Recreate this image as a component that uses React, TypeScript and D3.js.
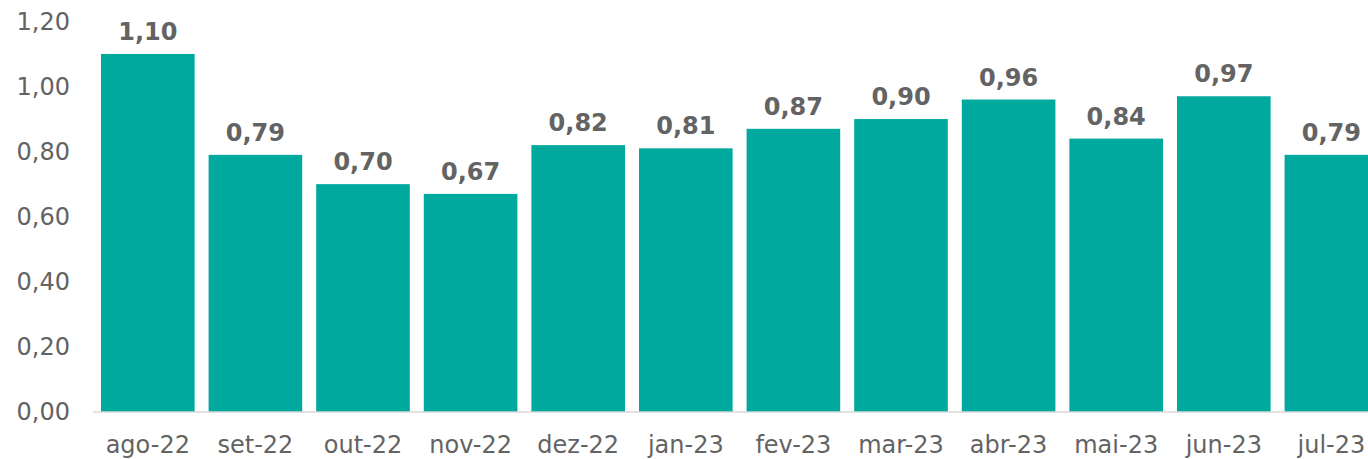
import React from "react";
import * as d3 from "d3";

const categories = ["ago-22", "set-22", "out-22", "nov-22", "dez-22", "jan-23", "fev-23", "mar-23", "abr-23", "mai-23", "jun-23", "jul-23"];
const values = [1.10, 0.79, 0.70, 0.67, 0.82, 0.81, 0.87, 0.90, 0.96, 0.84, 0.97, 0.79];
const yTicks = [0, 0.2, 0.4, 0.6, 0.8, 1.0, 1.2];

const W = 1368;
const H = 459;
const fmt = (v: number) => v.toFixed(2).replace(".", ",");

export default function App() {
  const x = d3.scaleBand<string>().domain(categories).range([94, 94 + 12 * 107.6]).paddingInner(0.13).paddingOuter(0.065);
  const y = d3.scaleLinear().domain([0, 1.2]).range([412, 21.4]);
  const font = "Verdana, 'DejaVu Sans', sans-serif";
  const gray = "#636363";
  const fs = 24;
  return (
    <svg width={W} height={H} style={{ position: "fixed", left: 0, top: 0, background: "#fff" }} fontFamily={font}>
      {yTicks.map((t) => (
        <text key={t} x={70} y={y(t)} dy="0.35em" textAnchor="end" fontSize={fs} fill={gray}>
          {fmt(t)}
        </text>
      ))}
      {categories.map((c, i) => (
        <g key={c}>
          <rect x={x(c)!} y={y(values[i])} width={x.bandwidth()} height={y(0) - y(values[i])} fill="#00A99D" />
          <text x={x(c)! + x.bandwidth() / 2} y={y(values[i]) - 14} textAnchor="middle" fontSize={fs} fontWeight="bold" fill={gray}>
            {fmt(values[i])}
          </text>
          <text x={x(c)! + x.bandwidth() / 2} y={453} textAnchor="middle" fontSize={fs} fill={gray}>
            {c}
          </text>
        </g>
      ))}
      <line x1={93} x2={W} y1={y(0)} y2={y(0)} stroke="#D9D9D9" strokeWidth={1.5} />
    </svg>
  );
}
